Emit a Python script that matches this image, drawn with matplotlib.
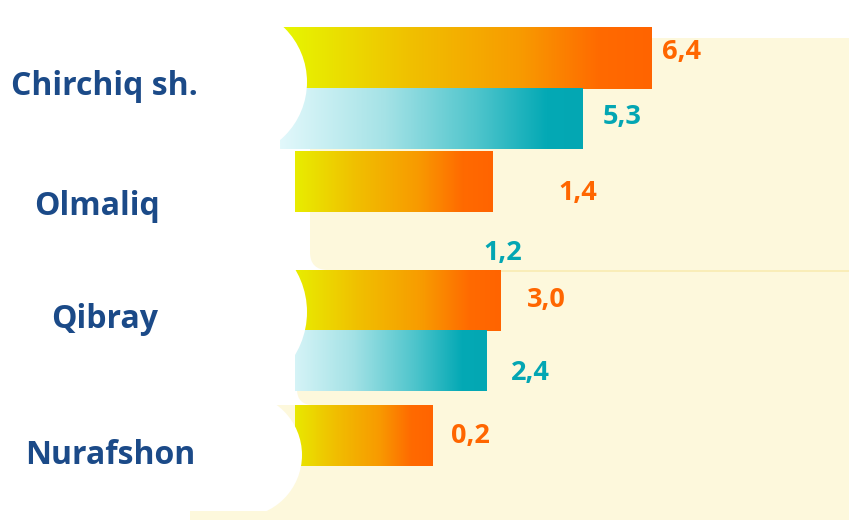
import numpy as np
import matplotlib
matplotlib.use("Agg")
import matplotlib.pyplot as plt
from matplotlib.patches import FancyBboxPatch, Circle, Rectangle
from matplotlib.colors import LinearSegmentedColormap
import matplotlib.transforms as mtransforms

# ---------------- data ----------------
categories = ["Chirchiq sh.", "Olmaliq", "Qibray", "Nurafshon"]
orange_values = [6.4, 1.4, 3.0, 0.2]
teal_values = [5.3, 1.2, 2.4, None]
# bar lengths as drawn in the source graphic (the graphic is not to scale)
orange_drawn = [6.4, 3.65, 3.79, 2.62]
teal_drawn = [5.21, 0.0, 3.55, 0.0]

# ---------------- layout ----------------
W, H, DPI = 849, 520, 100
PXU = 58.1          # pixels per x unit
ROW = 124.0         # pixels per row unit
X0, Y0 = 280, 58    # pixel of x=0 and of row 0
group_pos = [0.0, 0.992, 1.952, 3.048]
bar_h = 0.492
teal_shift = 0.490

orange_lbl_x = [6.575, 4.79, 4.25, 2.94]
orange_lbl_dy = [0.008, 0.153, 0.056, 0.056]
teal_lbl_x = [5.56, 3.51, 3.98, None]
teal_lbl_dy = [0.044, 0.145, 0.157, None]
cat_cx_px = [104.5, 97.5, 104.5, 110]
cat_dy = [0.298, 0.274, 0.226, 0.226]

ORANGE_TXT = "#FF6600"
TEAL_TXT = "#03A6B3"
BLUE = "#1B4A88"
CREAM = "#FDF8DC"

orange_cmap = LinearSegmentedColormap.from_list(
    "org", [(0, "#E6F800"), (0.35, "#F0C000"), (0.65, "#F89A00"),
            (0.86, "#FF6A00"), (1, "#FF6400")])
teal_cmap = LinearSegmentedColormap.from_list(
    "tea", [(0, "#E2F8FB"), (0.35, "#A4E2E6"), (0.65, "#4FC5CC"),
            (0.88, "#04A9B5"), (1, "#03A7B3")])

plt.rcParams['font.family'] = ['Open Sans', 'DejaVu Sans']

fig = plt.figure(figsize=(W / DPI, H / DPI), dpi=DPI)
fig.patch.set_facecolor("white")
ax = fig.add_axes([0, 0, 1, 1])
ax.set_xlim(-X0 / PXU, (W - X0) / PXU)
ax.set_ylim((H - Y0) / ROW, -Y0 / ROW)
ax.axis("off")

# pixel transform (origin top-left) for decorative shapes
pxT = mtransforms.Affine2D().scale(1 / DPI, -1 / DPI).translate(0, H / DPI) + fig.dpi_scale_trans

def deco(patch, z):
    patch.set_transform(pxT)
    patch.set_zorder(z)
    ax.add_patch(patch)
    return patch

# cream background panels
deco(FancyBboxPatch((310, 38), 600, 232, boxstyle="round,pad=0,rounding_size=18",
                    fc=CREAM, ec="none"), 0.5)
deco(FancyBboxPatch((297, 272), 600, 133, boxstyle="round,pad=0,rounding_size=16",
                    fc=CREAM, ec="none"), 0.5)
deco(Rectangle((190, 405), 700, 130, fc=CREAM, ec="none"), 0.5)
deco(Rectangle((318, 270), 600, 2.2, fc="#F9EDB8", ec="none"), 0.6)

# gradient bars
grad = np.linspace(0, 1, 256).reshape(1, -1)

def gradient_bars(ypos, lengths, cmap):
    bars = ax.barh(ypos, lengths, height=bar_h, left=0, color="none",
                   edgecolor="none", zorder=2)
    for b in bars:
        if b.get_width() <= 0:
            continue
        x, y = b.get_x(), b.get_y()
        w, h = b.get_width(), b.get_height()
        im = ax.imshow(grad, cmap=cmap, aspect="auto", extent=(x, x + w, y + h, y),
                       zorder=2, interpolation="bilinear")
        im.set_clip_path(b)

gp = np.array(group_pos)
gradient_bars(gp, orange_drawn, orange_cmap)
gradient_bars(gp + teal_shift, teal_drawn, teal_cmap)

ax.set_xlim(-X0 / PXU, (W - X0) / PXU)
ax.set_ylim((H - Y0) / ROW, -Y0 / ROW)

# masks / white blobs on the left
deco(Rectangle((270, 149), 25, 256, fc="white", ec="none"), 3)
deco(Rectangle((270, 405), 25, 70, fc=CREAM, ec="none"), 3)
deco(Circle((231, 82), 76, fc="white", ec="none"), 3.5)
deco(Circle((224, 312), 83, fc="white", ec="none"), 3.5)
# Nurafshon blob: rectangle + circular right side clipped to the band
deco(Rectangle((-10, 405), 250, 106, fc="white", ec="none"), 3.5)
band = Rectangle((0, 405), W, 106, transform=pxT, fc="none", ec="none")
blob = deco(Circle((240, 455), 62, fc="white", ec="none"), 3.5)
blob.set_clip_path(band)

# value labels
def fmt(v):
    return f"{v:.1f}".replace(".", ",")

for i, v in enumerate(orange_values):
    ax.text(orange_lbl_x[i], gp[i] + orange_lbl_dy[i], fmt(v), color=ORANGE_TXT,
            fontsize=19.5, fontweight="bold", ha="left", va="baseline", zorder=5)
for i, v in enumerate(teal_values):
    if v is None:
        continue
    ax.text(teal_lbl_x[i], gp[i] + teal_shift + teal_lbl_dy[i], fmt(v), color=TEAL_TXT,
            fontsize=19.5, fontweight="bold", ha="left", va="baseline", zorder=5)

# category labels
bt = mtransforms.blended_transform_factory(fig.transFigure, ax.transData)
for i, c in enumerate(categories):
    ax.text(cat_cx_px[i] / W, gp[i] + cat_dy[i], c, transform=bt, color=BLUE,
            fontsize=23, fontweight="bold", ha="center", va="baseline", zorder=5)

fig.savefig("out.png", dpi=DPI, facecolor="white")
